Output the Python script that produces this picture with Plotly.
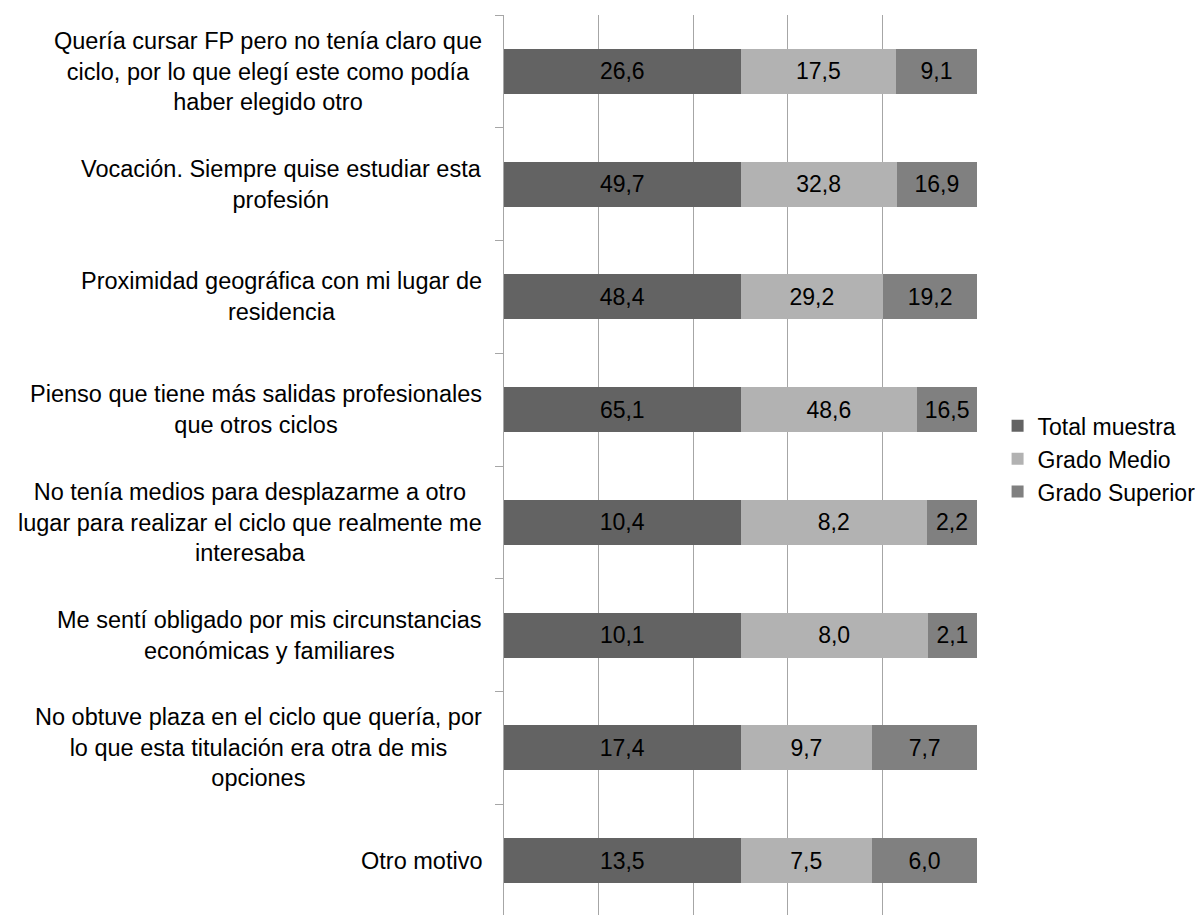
import plotly.graph_objects as go

categories = [
    "Quería cursar FP pero no tenía claro que<br>ciclo, por lo que elegí este como podía<br>haber elegido otro",
    "Vocación. Siempre quise estudiar esta<br>profesión",
    "Proximidad geográfica con mi lugar de<br>residencia",
    "Pienso que tiene más salidas profesionales<br>que otros ciclos",
    "No tenía medios para desplazarme a otro<br>lugar para realizar el ciclo que realmente me<br>interesaba",
    "Me sentí obligado por mis circunstancias<br>económicas y familiares",
    "No obtuve plaza en el ciclo que quería, por<br>lo que esta titulación era otra de mis<br>opciones",
    "Otro motivo",
]
total_muestra = [26.6, 49.7, 48.4, 65.1, 10.4, 10.1, 17.4, 13.5]
grado_medio = [17.5, 32.8, 29.2, 48.6, 8.2, 8.0, 9.7, 7.5]
grado_superior = [9.1, 16.9, 19.2, 16.5, 2.2, 2.1, 7.7, 6.0]

series = [
    ("Total muestra", total_muestra, "#636363"),
    ("Grado Medio", grado_medio, "#b2b2b2"),
    ("Grado Superior", grado_superior, "#808080"),
]

FONT = "Liberation Sans, Arial, sans-serif"
FS = 23
FS_LABEL = 23.5

def fmt(v):
    return f"{v:.1f}".replace(".", ",")

fig = go.Figure()
for name, vals, col in series:
    fig.add_trace(go.Bar(
        y=categories, x=vals, name=name, orientation="h",
        marker=dict(color=col, line=dict(width=0)),
        text=[fmt(v) for v in vals], textposition="inside",
        insidetextanchor="middle", textangle=0,
        textfont=dict(color="#000000", size=FS, family=FONT),
        hoverinfo="skip",
    ))

for cat in categories:
    fig.add_annotation(
        x=-0.042, xref="paper", y=cat, yref="y",
        text=cat, showarrow=False, xanchor="right", yanchor="middle",
        align="center", font=dict(size=FS_LABEL, family=FONT, color="#000000"),
    )

fig.update_layout(
    width=1203, height=915,
    barmode="stack", barnorm="percent", bargap=0.6,
    paper_bgcolor="white", plot_bgcolor="white",
    margin=dict(l=496, r=234, t=7, b=6, autoexpand=False),
    font=dict(family=FONT, size=FS, color="#000000"),
    showlegend=True,
    legend=dict(x=1.0435, xanchor="left", y=0.508, yanchor="middle",
                traceorder="normal",
                font=dict(size=FS, family=FONT), itemwidth=30, tracegroupgap=0,
                bgcolor="rgba(0,0,0,0)"),
    uniformtext=dict(mode="show", minsize=10),
)
fig.update_xaxes(range=[0, 100], dtick=20, showgrid=True, gridcolor="#a6a6a6",
                 gridwidth=1, showticklabels=False, zeroline=False, showline=False,
                 ticks="")
fig.update_yaxes(autorange="reversed", type="category", tickson="boundaries",
                 ticks="outside", ticklen=8, tickcolor="#a6a6a6", showline=True,
                 linecolor="#a6a6a6", linewidth=1, showgrid=False,
                 showticklabels=False)

fig.write_html("out.html")
